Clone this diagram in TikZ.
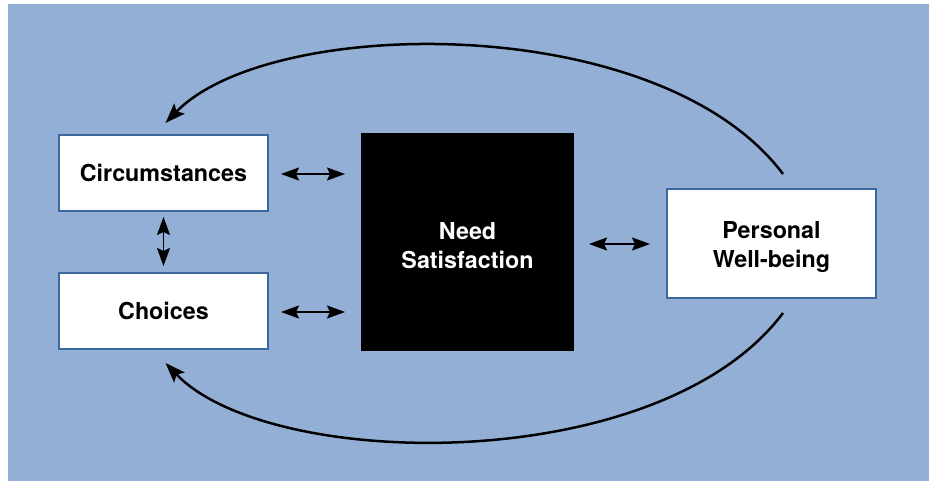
\documentclass[tikz,border=0pt]{standalone}
\usepackage{fontspec}
\setmainfont{TeX Gyre Heros}
\usetikzlibrary{arrows.meta,positioning}
\definecolor{bgblue}{RGB}{147,175,214}
\definecolor{boxblue}{RGB}{60,104,160}

\tikzset{
  factor/.style={draw=boxblue, line width=2pt, fill=white, minimum width=209pt,
    minimum height=76pt, align=center, font=\fontsize{23.3}{29.5}\selectfont\bfseries},
  link/.style={line width=1.8pt, {Stealth[length=18pt,width=13pt,inset=3pt]}-{Stealth[length=18pt,width=13pt,inset=3pt]}},
  feedback/.style={line width=2.5pt, -{Stealth[length=20pt,width=14.5pt,inset=4pt]}}
}

\begin{document}
\begin{tikzpicture}[x=1pt,y=-1pt]
 \useasboundingbox (0,0) rectangle (934,481);
 \fill[bgblue] (8,4) rectangle (929,481);

    % draw boxes
    \node[factor] (circ) at (163.5,173) {Circumstances};
    \node[factor] (choice) at (163.5,311) {Choices};
    \node[factor, fill=black, text=white, draw=none, minimum width=213pt, minimum height=218pt, text height=54pt] (need) at (467.5,242) {Need\\Satisfaction};
    \node[factor, minimum height=109pt, text height=54pt] (wellbeing) at (771.5,243.5) {Personal\\Well-being};

    % draw links
    \draw[link, shorten <=12pt, shorten >=15pt] ([yshift=-1pt]circ.east) -- ([yshift=-1pt]circ.east -| need.west);
    \draw[link, shorten <=12pt, shorten >=15pt] ([yshift=-1pt]choice.east) -- ([yshift=-1pt]choice.east -| need.west);
    \draw[link, shorten <=14pt, shorten >=16pt] ([yshift=-2pt]need.east) -- ([yshift=-2pt]need.east -| wellbeing.west);
    \draw[link, shorten <=5pt, shorten >=6pt] (circ) -- (choice);

    % draw feedback curves
    \draw[feedback] ([xshift=11.5pt,yshift=14pt]wellbeing.north) .. controls (660,10) and (270,15) .. ([xshift=2pt,yshift=11pt]circ.north);
    \draw[feedback] ([xshift=11.5pt,yshift=-14pt]wellbeing.south) .. controls (660,477) and (270,472) .. ([xshift=2pt,yshift=-13pt]choice.south);
\end{tikzpicture}
\end{document}
